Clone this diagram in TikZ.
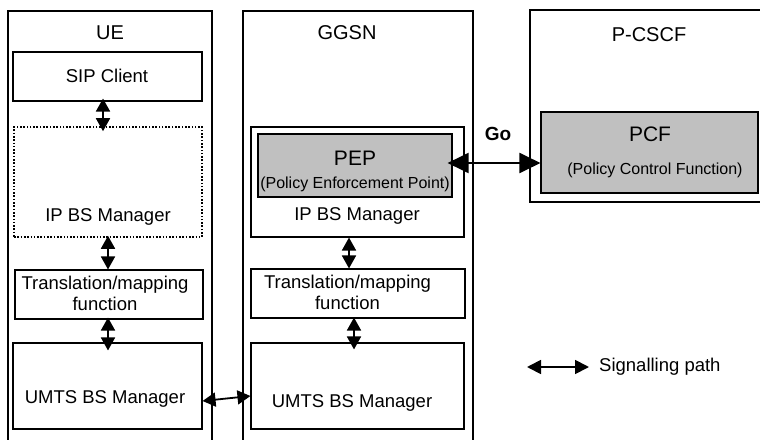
\documentclass[tikz,border=0pt]{standalone}
\usepackage{fontspec}
\setmainfont{Liberation Sans}
\usetikzlibrary{arrows.meta}
\begin{document}
\begin{tikzpicture}[x=1pt,y=-1pt,
  outer/.style={line width=1.3pt},
  box/.style={draw, line width=1.1pt, inner sep=0pt},
  dotbox/.style={draw, line width=1.6pt, dash pattern=on 1.6pt off 1.7pt, inner sep=0pt},
  grey/.style={box, fill=pepgrey},
  lab/.style={inner sep=0pt, font=\fontsize{18.5pt}{21pt}\selectfont, align=center},
  ttl/.style={inner sep=0pt, font=\fontsize{20pt}{23pt}\selectfont},
  big/.style={inner sep=0pt, font=\fontsize{21pt}{24pt}\selectfont},
  small/.style={inner sep=0pt, font=\fontsize{16pt}{19pt}\selectfont},
  sig/.style={{Triangle[length=13pt,width=14pt]}-{Triangle[length=13pt,width=14pt]}, line width=1.8pt},
  gosig/.style={{Triangle[length=21pt,width=20pt]}-{Triangle[length=21pt,width=20pt]}, line width=2pt},
]
\definecolor{pepgrey}{RGB}{192,192,192}
\clip (0,0) rectangle (760,439);
\fill[white] (0,0) rectangle (760,439);

% ---------- UE ----------
\draw[outer] (8,450) -- (8,11) -- (212,11) -- (212,450);
\node[ttl] (uet) at (110,33) {UE};
\node[box, minimum width=189pt, minimum height=49pt] (sip) at (107.5,76.5) {};
\node[lab] (siplab) at (107,76) {SIP Client};
\node[dotbox, minimum width=188pt, minimum height=110pt] (ueip) at (108,182) {};
\node[lab] (ueiplab) at (108,217) {IP BS Manager};
\node[box, minimum width=188pt, minimum height=49pt] (uetr) at (109,294.5) {};
\node[lab] (uetrlab) at (105,293) {Translation/mapping\\function};
\node[box, minimum width=189pt, minimum height=86pt] (uemts) at (107.5,386) {};
\node[lab] (uemtslab) at (105,399) {UMTS BS Manager};

\draw[sig] ([xshift=-4.5pt,yshift=3pt]sip.south) -- ([xshift=-5pt,yshift=-5pt]ueip.north);
\draw[sig] ([yshift=2pt]ueip.south) -- (ueip.south |- uetr.north);
\draw[sig] ([xshift=-1pt,yshift=2pt]uetr.south) -- ([xshift=0.5pt,yshift=-8pt]uemts.north);

% ---------- GGSN ----------
\draw[outer] (243,450) -- (243,11) -- (473,11) -- (473,450);
\node[ttl] (ggt) at (347,33) {GGSN};
\node[box, minimum width=213pt, minimum height=110pt] (gip) at (357.5,182) {};
\node[grey, minimum width=194pt, minimum height=63pt] (pep) at (355,165.5) {};
\node[big] (peplab) at (355,158) {PEP};
\node[small] (pepsub) at (355,184) {(Policy Enforcement Point)};
\node[lab] (giplab) at (357,216) {IP BS Manager};
\node[box, minimum width=214pt, minimum height=49pt] (gtr) at (358,293.5) {};
\node[lab] (gtrlab) at (347.5,292) {Translation/mapping\\function};
\node[box, minimum width=213pt, minimum height=86pt] (gum) at (357.5,386) {};
\node[lab] (gumlab) at (352,403) {UMTS BS Manager};

\draw[sig] ([xshift=-8.5pt]gip.south) -- ([xshift=-8.5pt]gip.south |- gtr.north);
\draw[sig] ([xshift=-4pt,yshift=1pt]gtr.south) -- ([xshift=-3.5pt,yshift=-7pt]gum.north);

% UE UMTS <-> GGSN UMTS
\draw[sig] ([yshift=-15pt]uemts.east) -- ([yshift=-10pt]gum.west);

% ---------- P-CSCF ----------
\draw[outer] (770,10) -- (530,10) -- (530,202) -- (770,202);
\node[ttl] (pct) at (649,35) {P-CSCF};
\node[grey, minimum width=217pt, minimum height=81pt] (pcf) at (649.5,152.5) {};
\node[big] (pcflab) at (650,134) {PCF};
\node[small] (pcfsub) at (655,170) {(Policy Control Function)};

% Go interface
\draw[gosig] ([xshift=-5pt,yshift=2.5pt]pep.east) -- ([yshift=2.5pt]pep.east -| pcf.west);
\node[lab, font=\fontsize{19pt}{22pt}\selectfont\bfseries] (go) at (498,134) {Go};

% ---------- Legend ----------
\coordinate (la) at (527,367);
\coordinate (lb) at (589,367);
\draw[sig, {Triangle[length=14pt,width=14pt]}-{Triangle[length=14pt,width=14pt]}] (la) -- (lb);
\node[lab, anchor=west] (leg) at (599,367) {Signalling path};
\end{tikzpicture}
\end{document}
